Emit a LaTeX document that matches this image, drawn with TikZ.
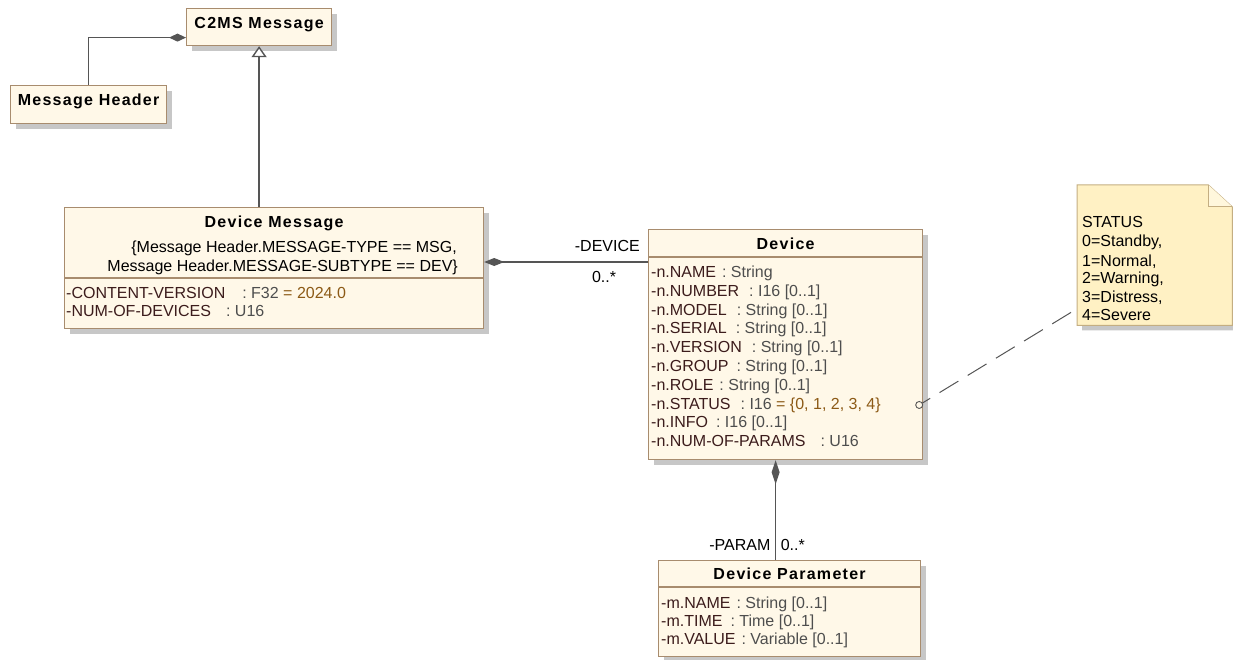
\documentclass[tikz,border=0pt]{standalone}
\usepackage{fontspec}
\setmainfont{Liberation Sans}
\newfontfamily\umltitlefont[LetterSpace=8]{Liberation Sans}
\usetikzlibrary{arrows.meta,shadows,calc}

\definecolor{boxfill}{HTML}{FFF8E8}
\definecolor{boxline}{HTML}{A88C6E}
\definecolor{connline}{HTML}{555555}
\definecolor{attrname}{HTML}{3C1C1C}
\definecolor{attrtype}{HTML}{4E4E4E}
\definecolor{attrval}{HTML}{8C5A16}
\definecolor{notefill}{HTML}{FFF1C4}
\definecolor{noteline}{HTML}{C4AE82}

\newcommand\ty[1]{\textcolor{attrtype}{#1}}
\newcommand\dv[1]{\textcolor{attrval}{#1}}

\tikzset{
  umlbox/.style={draw=boxline, line width=1.2pt, fill=boxfill, inner sep=0pt,
    anchor=north west,
    drop shadow={shadow xshift=5pt, shadow yshift=-5pt, fill=black!22, opacity=1}},
  septitle/.style={draw=boxline, line width=1.2pt},
  umltitle/.style={font=\umltitlefont\bfseries\fontsize{16}{19}\selectfont, inner sep=0pt, anchor=base},
  attr/.style={font=\fontsize{16}{19}\selectfont, inner sep=0pt, anchor=base west, text=attrname},
  plain/.style={font=\fontsize{16}{19}\selectfont, inner sep=0pt, text=black},
  conn/.style={draw=connline, line width=1.4pt},
  comp/.style={conn, -{Diamond[length=#1,width=8pt,fill=connline]}},
  comp/.default=18pt,
  gen/.style={conn, -{Triangle[open,length=11pt,width=15pt,fill=white]}},
  notelink/.style={draw=connline, line width=1pt, dash pattern=on 22pt off 11pt}
}

\begin{document}
\begin{tikzpicture}[x=1pt,y=-1pt]
\useasboundingbox (0,0) rectangle (1233,660);

% ---- C2MS Message ----
\node[umlbox, minimum width=145pt, minimum height=37pt] (c2ms) at (186,8) {};
\node[umltitle] (c2mst) at ($(c2ms.north)+(0,21)$) {C2MS Message};

% ---- Message Header ----
\node[umlbox, minimum width=156pt, minimum height=38pt] (mh) at (10,85) {};
\node[umltitle] (mht) at ($(mh.north)+(0,21)$) {Message Header};

% ---- Device Message ----
\node[umlbox, minimum width=419pt, minimum height=121pt] (dm) at (64,207) {};
\node[umltitle] (dmt) at ($(dm.north)+(0,21)$) {Device Message};
\node[plain, anchor=base east] (dmc1) at ($(dm.north west)+(393,46)$) {\{Message Header.MESSAGE-TYPE == MSG,};
\node[plain, anchor=base east] (dmc2) at ($(dm.north west)+(394,64)$) {Message Header.MESSAGE-SUBTYPE == DEV\}};
\draw[septitle] ($(dm.north west)+(0,71)$) -- ($(dm.north east)+(0,71)$);
\node[attr] (dma1) at ($(dm.north west)+(2,91)$) {-CONTENT-VERSION\hspace{17pt}\ty{: F32} \dv{= 2024.0}};
\node[attr] (dma2) at ($(dm.north west)+(2,109)$) {-NUM-OF-DEVICES\hspace{15pt}\ty{: U16}};

% ---- Device ----
\node[umlbox, minimum width=274pt, minimum height=230pt] (dev) at (648,229) {};
\node[umltitle] (devt) at ($(dev.north)+(0,21)$) {Device};
\draw[septitle] ($(dev.north west)+(0,28)$) -- ($(dev.north east)+(0,28)$);
\node[attr] (da1) at ($(dev.north west)+(3,48.5)$) {-n.NAME\hspace{6pt}\ty{: String}};
\node[attr] (da2) at ($(dev.north west)+(3,67.3)$) {-n.NUMBER\hspace{10pt}\ty{: I16 [0..1]}};
\node[attr] (da3) at ($(dev.north west)+(3,86.1)$) {-n.MODEL\hspace{10pt}\ty{: String [0..1]}};
\node[attr] (da4) at ($(dev.north west)+(3,104.9)$) {-n.SERIAL\hspace{9pt}\ty{: String [0..1]}};
\node[attr] (da5) at ($(dev.north west)+(3,123.7)$) {-n.VERSION\hspace{10pt}\ty{: String [0..1]}};
\node[attr] (da6) at ($(dev.north west)+(3,142.5)$) {-n.GROUP\hspace{8pt}\ty{: String [0..1]}};
\node[attr] (da7) at ($(dev.north west)+(3,161.3)$) {-n.ROLE\hspace{6pt}\ty{: String [0..1]}};
\node[attr] (da8) at ($(dev.north west)+(3,180.1)$) {-n.STATUS\hspace{10pt}\ty{: I16} \dv{= \{0, 1, 2, 3, 4\}}};
\node[attr] (da9) at ($(dev.north west)+(3,198.9)$) {-n.INFO\hspace{8pt}\ty{: I16 [0..1]}};
\node[attr] (da10) at ($(dev.north west)+(3,217.7)$) {-n.NUM-OF-PARAMS\hspace{15pt}\ty{: U16}};

% ---- Device Parameter ----
\node[umlbox, minimum width=262pt, minimum height=96pt] (dp) at (658,560) {};
\node[umltitle] (dpt) at ($(dp.north)+(0,19)$) {Device Parameter};
\draw[septitle] ($(dp.north west)+(0,27)$) -- ($(dp.north east)+(0,27)$);
\node[attr] (dpa1) at ($(dp.north west)+(3,48)$) {-m.NAME\hspace{6pt}\ty{: String [0..1]}};
\node[attr] (dpa2) at ($(dp.north west)+(3,66)$) {-m.TIME\hspace{8pt}\ty{: Time [0..1]}};
\node[attr] (dpa3) at ($(dp.north west)+(3,84)$) {-m.VALUE\hspace{6pt}\ty{: Variable [0..1]}};

% ---- STATUS note ----
\node[inner sep=0pt, minimum width=155pt, minimum height=140pt, anchor=north west] (note) at (1077,185) {};
\fill[black!22] ($(note.north west)+(5,5)$) -- ($(note.north east)+(-19,5)$) -- ($(note.north east)+(5,27)$)
  -- ($(note.south east)+(5,5)$) -- ($(note.south west)+(5,5)$) -- cycle;
\draw[draw=noteline, line width=1pt, fill=notefill]
  (note.north west) -- ($(note.north east)+(-24,0)$) -- ($(note.north east)+(0,22)$)
  -- (note.south east) -- (note.south west) -- cycle;
\draw[draw=noteline, line width=1pt, fill=notefill!60]
  ($(note.north east)+(-24,0)$) -- ($(note.north east)+(-24,22)$) -- ($(note.north east)+(0,22)$);
\node[plain, anchor=base west] (n1) at ($(note.north west)+(5,43)$) {STATUS};
\node[plain, anchor=base west] (n2) at ($(note.north west)+(5,62)$) {0=Standby,};
\node[plain, anchor=base west] (n3) at ($(note.north west)+(5,81)$) {1=Normal,};
\node[plain, anchor=base west] (n4) at ($(note.north west)+(5,98.5)$) {2=Warning,};
\node[plain, anchor=base west] (n5) at ($(note.north west)+(5,117)$) {3=Distress,};
\node[plain, anchor=base west] (n6) at ($(note.north west)+(5,135)$) {4=Severe};

% ---- connectors ----
% Message Header is part of C2MS Message
\draw[comp=17pt] (mh.north) |- ([yshift=-10.5pt]c2ms.west);
% Device Message specialises C2MS Message
\draw[gen] (c2ms.south |- dm.north) -- (c2ms.south);
% Device Message owns Device
\path ([yshift=-33pt]dev.north west) coordinate (devin);
\draw[comp=20pt] (devin) -- (devin -| dm.east);
\node[plain, anchor=east] (lbldev) at ($(devin)+(-8,-16)$) {-DEVICE};
\node[plain] (lblm1) at ($(devin)+(-44,15)$) {0..*};
% Device owns Device Parameter
\draw[comp=24pt] ([xshift=-14pt]dp.north) -- ([xshift=-14pt]dp.north |- dev.south);
\node[plain, anchor=east] (lblpar) at ($([xshift=-14pt]dp.north)+(-5,-15)$) {-PARAM};
\node[plain, anchor=west] (lblm2) at ($([xshift=-14pt]dp.north)+(5,-15)$) {0..*};
% note attached to STATUS attribute
\path ([xshift=-4pt]dev.east |- da8.center) coordinate (stpin);
\draw[connline, line width=0.9pt] (stpin) circle (3.5pt);
\draw[notelink] ($(note.south west)+(-6,-13)$) -- ($(stpin)+(3.0,-1.8)$);
\end{tikzpicture}
\end{document}
